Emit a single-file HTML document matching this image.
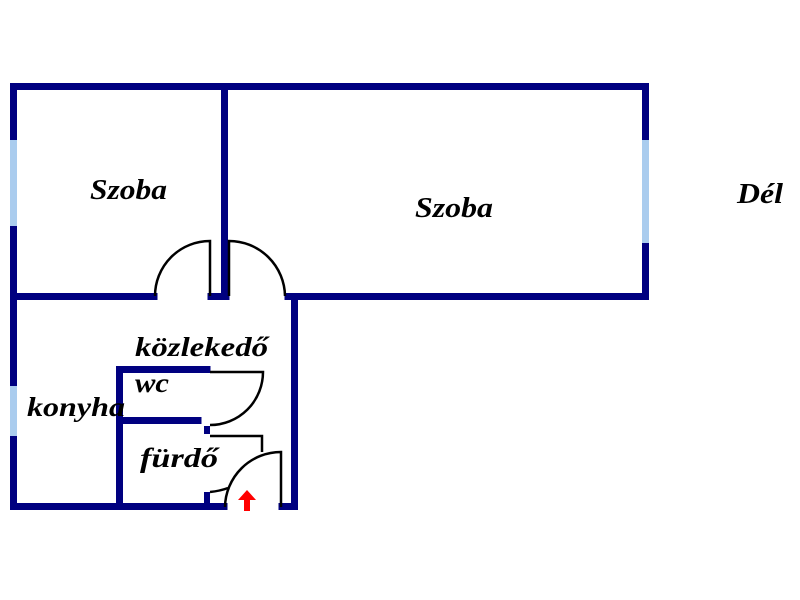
<!DOCTYPE html>
<html><head><style>body{margin:0;background:#fff}svg{display:block}
text{font-family:"Liberation Serif",serif;font-style:italic;font-weight:bold;fill:#000}</style></head>
<body>
<svg width="800" height="600" viewBox="0 0 800 600" xmlns="http://www.w3.org/2000/svg">
<g stroke="#000080" stroke-width="7" fill="none" stroke-linecap="square">
<line x1="13.5" y1="86.5" x2="645.5" y2="86.5"/>
<line x1="13.5" y1="86.5" x2="13.5" y2="506.5"/>
<line x1="645.5" y1="86.5" x2="645.5" y2="296.5"/>
<line x1="224.5" y1="86.5" x2="224.5" y2="296.5"/>
<line x1="13.5" y1="296.5" x2="154" y2="296.5"/>
<line x1="211" y1="296.5" x2="226" y2="296.5"/>
<line x1="288" y1="296.5" x2="645.5" y2="296.5"/>
<line x1="294.5" y1="296.5" x2="294.5" y2="506.5"/>
<line x1="13.5" y1="506.5" x2="224" y2="506.5"/>
<line x1="282" y1="506.5" x2="294.5" y2="506.5"/>
<line x1="119.5" y1="369.5" x2="119.5" y2="506.5"/>
<line x1="119.5" y1="369.5" x2="207" y2="369.5"/>
<line x1="119.5" y1="420.5" x2="198" y2="420.5"/>
<line x1="207" y1="426" x2="207" y2="434" stroke-linecap="butt" stroke-width="6"/>
<line x1="207" y1="492" x2="207" y2="507" stroke-linecap="butt" stroke-width="6"/>
</g>
<g stroke="#aaccee" stroke-width="7">
<line x1="13.5" y1="140" x2="13.5" y2="226"/>
<line x1="13.5" y1="386" x2="13.5" y2="436"/>
<line x1="645.5" y1="140" x2="645.5" y2="243"/>
</g>
<g stroke="#000" stroke-width="2.5" fill="none">
<path d="M155 296 A55 55 0 0 1 210 241 L210 296"/>
<path d="M229 296 L229 241 A56 56 0 0 1 285 296"/>
<path d="M210 372 L263 372 A53 53 0 0 1 210 425"/>
<path d="M210 436 L262 436 L262 452"/>
<path d="M210 492 Q220 491 228 488"/>
<path d="M225 507 A56 56 0 0 1 281 452 L281 507"/>
</g>
<polygon points="247,490 238,500 244,500 244,511 250,511 250,500 256,500" fill="#f00"/>
<text x="90" y="199" font-size="28" textLength="77" lengthAdjust="spacingAndGlyphs">Szoba</text>
<text x="415" y="217" font-size="28" textLength="78" lengthAdjust="spacingAndGlyphs">Szoba</text>
<text x="737" y="203" font-size="28" textLength="46" lengthAdjust="spacingAndGlyphs">Dél</text>
<text x="135" y="356" font-size="27" textLength="133" lengthAdjust="spacingAndGlyphs">közlekedő</text>
<text x="135" y="392" font-size="27" textLength="34" lengthAdjust="spacingAndGlyphs">wc</text>
<text x="27" y="416" font-size="27" textLength="98" lengthAdjust="spacingAndGlyphs">konyha</text>
<text x="140" y="467" font-size="27" textLength="78" lengthAdjust="spacingAndGlyphs">fürdő</text>
</svg>
</body></html>
